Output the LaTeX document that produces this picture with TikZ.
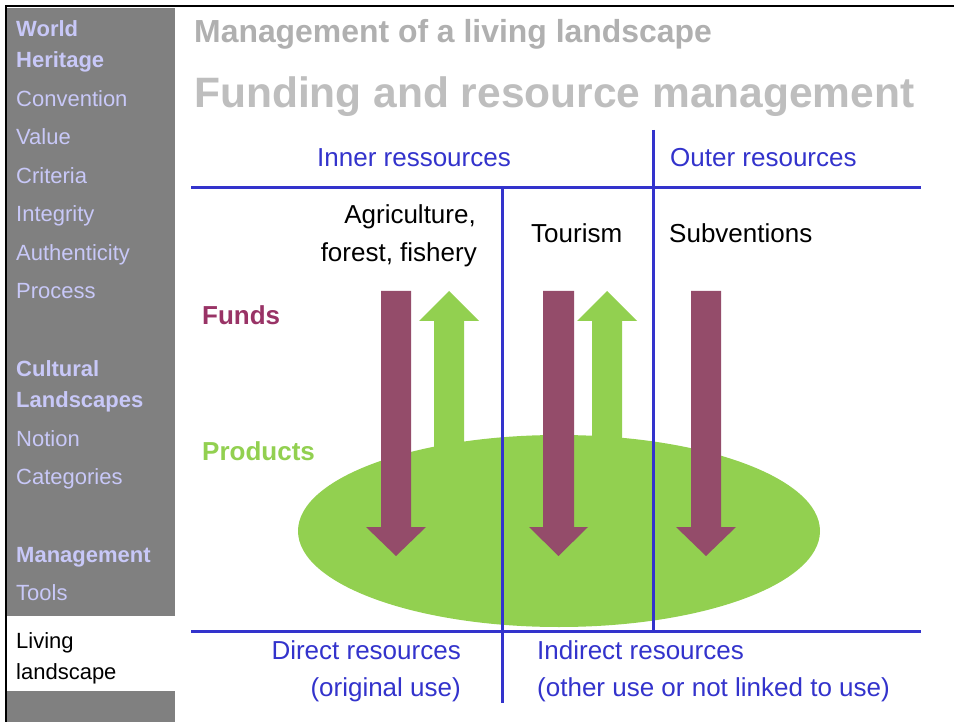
\documentclass[tikz,border=0pt]{standalone}
\usepackage{fontspec}
\setmainfont{Liberation Sans}
\definecolor{sidegray}{HTML}{808080}
\definecolor{sidetext}{HTML}{C8C8F8}
\definecolor{titlea}{HTML}{B0B0B0}
\definecolor{titleb}{HTML}{BEBEBE}
\definecolor{lineblue}{HTML}{3333CC}
\definecolor{fundcol}{HTML}{944C6A}
\definecolor{fundtext}{HTML}{993366}
\definecolor{prodgreen}{HTML}{92D050}
\tikzset{
  txt/.style={inner sep=0pt, anchor=base west},
  side/.style={txt, text=sidetext, font=\fontsize{22}{26}\selectfont},
  sideb/.style={side, font=\fontsize{22}{26}\selectfont\bfseries},
  bluetxt/.style={inner sep=0pt, text=lineblue, font=\fontsize{26}{31}\selectfont},
  blacktxt/.style={inner sep=0pt, text=black, font=\fontsize{26}{31}\selectfont},
  grid/.style={draw=lineblue, line width=3pt},
  fundarrow/.style={fill=fundcol},
  prodarrow/.style={fill=prodgreen}
}
\begin{document}
\begin{tikzpicture}[x=1pt,y=-1pt]
\useasboundingbox (0,0) rectangle (954,722);
\fill[white] (0,0) rectangle (954,722);
% sidebar
\fill[sidegray] (7,8) rectangle (175,722);
\fill[white] (7,616) rectangle (175,691);
\draw[black, line width=2.5pt] (6,722) -- (6,6) -- (954,6);
\node[sideb] (s1) at (16,37) {World};
\node[sideb] (s2) at (16,68) {Heritage};
\node[side] (s3) at (16,107) {Convention};
\node[side] (s4) at (16,145) {Value};
\node[side] (s5) at (16,184) {Criteria};
\node[side] (s6) at (16,222) {Integrity};
\node[side] (s7) at (16,261) {Authenticity};
\node[side] (s8) at (16,299) {Process};
\node[sideb] (s9) at (16,377) {Cultural};
\node[sideb] (s10) at (16,407) {Landscapes};
\node[side] (s11) at (16,446) {Notion};
\node[side] (s12) at (16,484) {Categories};
\node[sideb] (s13) at (16,562) {Management};
\node[side] (s14) at (16,600) {Tools};
\node[txt, text=black, font=\fontsize{22}{26}\selectfont] (s15) at (16,648) {Living};
\node[txt, text=black, font=\fontsize{22}{26}\selectfont] (s16) at (16,679) {landscape};
% titles
\node[txt, text=titlea, font=\fontsize{31.9}{36}\selectfont\bfseries] (t1) at (194,43) {Management of a living landscape};
\node[txt, text=titleb, font=\fontsize{42.5}{48}\selectfont\bfseries] (t2) at (194,108) {Funding and resource management};
% ellipse
\fill[prodgreen] (559,531) ellipse [x radius=261, y radius=96];
% product arrows
\fill[prodarrow] (434,470) -- (434,321) -- (419,321) -- (449,291) -- (479,321) -- (464,321) -- (464,470) -- cycle;
\fill[prodarrow] (592,470) -- (592,321) -- (577,321) -- (607,291) -- (637,321) -- (622,321) -- (622,470) -- cycle;
% fund arrows
\fill[fundarrow] (381,291) -- (411,291) -- (411,527) -- (426,527) -- (396,556) -- (366,527) -- (381,527) -- cycle;
\fill[fundarrow] (543,291) -- (574,291) -- (574,527) -- (588,527) -- (558.5,556) -- (529,527) -- (543,527) -- cycle;
\fill[fundarrow] (691,291) -- (721,291) -- (721,527) -- (736,527) -- (706,556) -- (676,527) -- (691,527) -- cycle;
% grid lines
\coordinate (hl1) at (191,188); \coordinate (hr1) at (921,188);
\coordinate (hl2) at (191,631); \coordinate (hr2) at (921,631);
\coordinate (va1) at (502,188); \coordinate (va2) at (502,703);
\coordinate (vb1) at (653,130); \coordinate (vb2) at (653,631);
\draw[grid] (hl1) -- (hr1);
\draw[grid] (hl2) -- (hr2);
\draw[grid] (va1) -- (va2);
\draw[grid] (vb1) -- (vb2);
% labels
\node[bluetxt, anchor=base west] (inner) at (317,167) {Inner ressources};
\node[bluetxt, anchor=base west] (outer) at (670,167) {Outer resources};
\node[blacktxt, anchor=base east] (agri1) at (476,224) {Agriculture,};
\node[blacktxt, anchor=base east] (agri2) at (477,262) {forest, fishery};
\node[blacktxt, anchor=base west] (tour) at (531,243) {Tourism};
\node[blacktxt, anchor=base west] (subv) at (669,243) {Subventions};
\node[inner sep=0pt, anchor=base west, text=fundtext, font=\fontsize{26}{31}\selectfont\bfseries] (funds) at (202,324) {Funds};
\node[inner sep=0pt, anchor=base west, text=prodgreen, font=\fontsize{26}{31}\selectfont\bfseries] (prods) at (202,460) {Products};
\node[bluetxt, anchor=base east] (dir1) at (461,659) {Direct resources};
\node[bluetxt, anchor=base east] (dir2) at (461,696) {(original use)};
\node[bluetxt, anchor=base west] (ind1) at (537,659) {Indirect resources};
\node[bluetxt, anchor=base west] (ind2) at (537,696) {(other use or not linked to use)};
\end{tikzpicture}
\end{document}
